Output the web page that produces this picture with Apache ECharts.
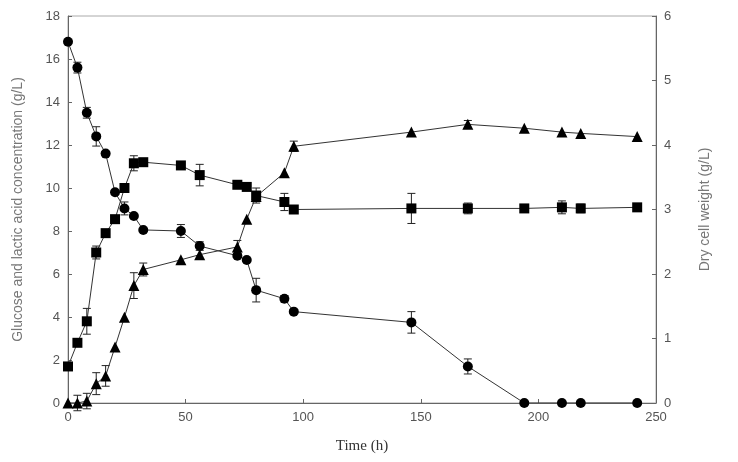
<!DOCTYPE html>
<html>
<head>
<meta charset="utf-8">
<script src="https://cdn.jsdelivr.net/npm/echarts@6/dist/echarts.min.js"></script>
<style>
  html, body { margin: 0; padding: 0; background: #fff; }
  #chart { width: 738px; height: 462px; }
</style>
</head>
<body>
<div id="chart"></div>
<script>
// Time points (h)
const time = [0, 4, 8, 12, 16, 20, 24, 28, 32, 48, 56, 72, 76, 80, 92, 96, 146, 170, 194, 210, 218, 242]

// Glucose (g/L), left axis
const glucose = [16.8, 15.6, 13.5, 12.4, 11.6, 9.8, 9.05, 8.7, 8.05, 8.0, 7.3, 6.85, 6.65, 5.25, 4.85, 4.25, 3.75, 1.7, 0, 0, 0, 0]
const glucoseErr = [0, 0.25, 0.25, 0.45, 0.1, 0, 0.3, 0, 0, 0.3, 0.2, 0, 0, 0.55, 0.15, 0, 0.5, 0.35, 0, 0, 0, 0]

// Lactic acid (g/L), left axis
const lactic = [1.7, 2.8, 3.8, 7.0, 7.9, 8.55, 10.0, 11.15, 11.2, 11.05, 10.6, 10.15, 10.05, 9.65, 9.35, 9.0, 9.05, 9.05, 9.05, 9.1, 9.05, 9.1]
const lacticErr = [0, 0, 0.6, 0.3, 0, 0, 0, 0.35, 0, 0, 0.5, 0, 0, 0.35, 0.4, 0, 0.7, 0.25, 0, 0.3, 0.2, 0]

// Dry cell weight (g/L), right axis
const dcw = [0, 0, 0.03, 0.3, 0.42, 0.87, 1.33, 1.82, 2.07, 2.22, 2.3, 2.42, 2.85, 3.2, 3.57, 3.98, 4.2, 4.32, 4.26, 4.2, 4.18, 4.13]
const dcwErr = [0, 0.12, 0.12, 0.17, 0.16, 0, 0, 0.2, 0.1, 0, 0, 0.1, 0, 0, 0, 0.08, 0, 0.06, 0, 0, 0, 0]

const axisColor = '#666'
const labelColor = '#555'

function pairs(vals) {
  return time.map((t, i) => [t, vals[i]])
}

function errData(vals, errs) {
  const out = []
  time.forEach((t, i) => {
    if (errs[i] > 0) out.push([t, vals[i] - errs[i], vals[i] + errs[i]])
  })
  return out
}

function renderErr(params, api) {
  const x = api.value(0)
  const lo = api.coord([x, api.value(1)])
  const hi = api.coord([x, api.value(2)])
  const w = 4
  const style = { stroke: '#222', lineWidth: 1 }
  return {
    type: 'group',
    children: [
      { type: 'line', shape: { x1: lo[0], y1: lo[1], x2: hi[0], y2: hi[1] }, style },
      { type: 'line', shape: { x1: lo[0] - w, y1: lo[1], x2: lo[0] + w, y2: lo[1] }, style },
      { type: 'line', shape: { x1: hi[0] - w, y1: hi[1], x2: hi[0] + w, y2: hi[1] }, style },
    ],
  }
}

function lineSeries(name, vals, symbol, size, yAxisIndex) {
  return {
    name,
    type: 'line',
    yAxisIndex,
    data: pairs(vals),
    symbol,
    symbolSize: size,
    showAllSymbol: true,
    lineStyle: { color: '#333', width: 1 },
    itemStyle: { color: '#000' },
    z: 3,
  }
}

function errSeries(vals, errs, yAxisIndex) {
  return {
    type: 'custom',
    yAxisIndex,
    data: errData(vals, errs),
    renderItem: renderErr,
    encode: { x: 0, y: [1, 2] },
    z: 2,
  }
}

const chart = echarts.init(document.getElementById('chart'))
chart.setOption({
  animation: false,
  backgroundColor: '#fff',
  grid: { left: 68, right: 82, top: 16, bottom: 59, show: true, borderColor: '#aaa', borderWidth: 1 },
  xAxis: {
    type: 'value',
    min: 0,
    max: 250,
    interval: 50,
    name: 'Time (h)',
    nameLocation: 'middle',
    nameGap: 36,
    nameTextStyle: { fontFamily: 'Liberation Serif', fontSize: 15, color: '#333' },
    axisLine: { lineStyle: { color: axisColor } },
    axisTick: { inside: true, length: 4, lineStyle: { color: axisColor } },
    axisLabel: { color: labelColor, fontFamily: 'Liberation Sans', fontSize: 13, margin: 8 },
    splitLine: { show: false },
  },
  yAxis: [
    {
      type: 'value',
      min: 0,
      max: 18,
      interval: 2,
      name: 'Glucose and lactic acid concentration (g/L)',
      nameLocation: 'middle',
      nameGap: 43,
      nameRotate: 90,
      nameTextStyle: { fontFamily: 'Liberation Sans', fontSize: 14, color: '#777' },
      axisLine: { show: true, lineStyle: { color: axisColor } },
      axisTick: { show: true, inside: true, length: 4, lineStyle: { color: axisColor } },
      axisLabel: { color: labelColor, fontFamily: 'Liberation Sans', fontSize: 13, margin: 8 },
      splitLine: { show: false },
    },
    {
      type: 'value',
      min: 0,
      max: 6,
      interval: 1,
      position: 'right',
      name: 'Dry cell weight (g/L)',
      nameLocation: 'middle',
      nameGap: 42,
      nameRotate: 90,
      nameTextStyle: { fontFamily: 'Liberation Sans', fontSize: 14, color: '#777' },
      axisLine: { show: true, lineStyle: { color: axisColor } },
      axisTick: { show: true, inside: true, length: 4, lineStyle: { color: axisColor } },
      axisLabel: { color: labelColor, fontFamily: 'Liberation Sans', fontSize: 13, margin: 8 },
      splitLine: { show: false },
    },
  ],
  series: [
    errSeries(glucose, glucoseErr, 0),
    errSeries(lactic, lacticErr, 0),
    errSeries(dcw, dcwErr, 1),
    lineSeries('Glucose', glucose, 'circle', 10, 0),
    lineSeries('Lactic acid', lactic, 'rect', 10, 0),
    lineSeries('Dry cell weight', dcw, 'triangle', 11, 1),
  ],
})
</script>
</body>
</html>
